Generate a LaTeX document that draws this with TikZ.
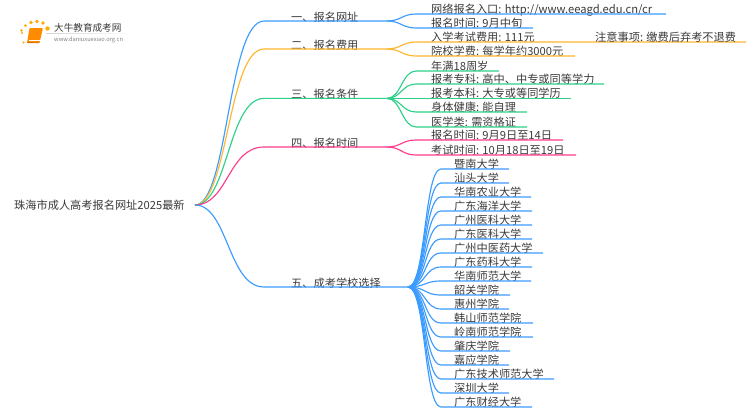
\documentclass[tikz,border=0pt]{standalone}
\usepackage{fontspec}
\setmainfont{Noto Sans CJK SC}
\usepackage{tikz}

\definecolor{linkblue}{HTML}{3C9BFF}
\definecolor{linkorange}{HTML}{FFB52E}
\definecolor{linkgreen}{HTML}{2ED08A}
\definecolor{linkpink}{HTML}{FF3D8B}
\definecolor{textgray}{HTML}{3A3A3A}

\tikzset{
    label/.style={anchor=base west, inner sep=0pt, text=textgray, font=\fontsize{11.2}{13}\selectfont},
    link/.style={line width=1.15pt},
}

\begin{document}
\begin{tikzpicture}[x=1pt, y=-1pt]
    \useasboundingbox (0, 0) rectangle (750, 410);

    % logo
    \foreach \dotx/\doty/\dotr in {22/33/1.2, 21.5/30.5/1.4, 25.5/25.5/1.5, 31/22.5/1.8, 37/21.5/1.9, 43/23/1.9, 47.5/28.5/2.2, 23.5/42.5/1.1}
        \fill[orange!65!yellow] (\dotx, \doty) circle (\dotr);
    \fill[orange!90!yellow, rounded corners=1pt] (29.5, 28) -- (43, 28) -- (39.5, 43) -- (27, 43) -- cycle;
    \draw[white, line width=0.5pt] (29, 40) -- (40, 40);
    \draw[orange!85!black, line width=0.7pt] (27, 42.5) -- (39.5, 42.7);
    \shade[left color=gray!35, right color=white] (46, 33) rectangle (133, 33.6);
    \node[label, font=\fontsize{9.6}{11}\selectfont] (logotitle) at (54, 31) {大牛教育成考网};
    \node[label, font=\fontsize{5.7}{7}\selectfont, text=gray] (logourl) at (54, 41) {www.daniuxuexiao.org.cn};

    % root
    \node[label] (root) at (14, 209.5) {珠海市成人高考报名网址2025最新};
    \coordinate (hub) at (195, 205);

    % five main branches
    \foreach \name/\yy/\endx/\col/\txt in {
        one/21/387/linkblue/一、报名网址,
        two/49/387/linkorange/二、报名费用,
        three/98.4/387/linkgreen/三、报名条件,
        four/147/387/linkpink/四、报名时间,
        five/287/408/linkblue/五、成考学校选择} {
        \coordinate (\name a) at (264, \yy);
        \coordinate (\name) at (\endx, \yy);
        \node[label] (\name t) at (291, \yy) {\txt};
        \draw[link, \col] (hub) .. controls (228, 205) and (228, \yy) .. (\name a) -- (\name);
    }

    % leaves of the first four branches
    \foreach \name/\from/\yy/\endx/\col/\txt in {
        aa/one/14/666/linkblue/{网络报名入口: http://www.eeagd.edu.cn/cr},
        ab/one/28/533/linkblue/报名时间: 9月中旬,
        ba/two/42/746/linkorange/入学考试费用: 111元,
        bb/two/56/575/linkorange/院校学费: 每学年约3000元,
        ca/three/71/499/linkgreen/年满18周岁,
        cb/three/84/604/linkgreen/报考专科: 高中、中专或同等学力,
        cc/three/98.4/571/linkgreen/报考本科: 大专或等同学历,
        cd/three/112/527/linkgreen/身体健康: 能自理,
        ce/three/127/527/linkgreen/医学类: 需资格证,
        da/four/140/563/linkpink/报名时间: 9月9日至14日,
        db/four/155/576/linkpink/考试时间: 10月18日至19日} {
        \coordinate (\name a) at (416, \yy);
        \coordinate (\name) at (\endx, \yy);
        \node[label] (\name t) at (431, \yy-1) {\txt};
        \draw[link, \col] (\from) .. controls +(14,0) and +(-14,0) .. (\name a) -- (\name);
    }
    \node[label] (banote) at (595, 41) {注意事项: 缴费后弃考不退费};

    % universities
    \foreach \yy/\endx/\txt [count=\i] in {
        169/509/暨南大学, 183/509/汕头大学, 197/531/华南农业大学, 211/532/广东海洋大学,
        225/532/广州医科大学, 239/532/广东医科大学, 253/543/广州中医药大学, 267/532/广东药科大学,
        281/531/华南师范大学, 295/510/韶关学院, 309/509/惠州学院, 323/533/韩山师范学院,
        337/533/岭南师范学院, 351/510/肇庆学院, 365/509/嘉应学院, 379/554/广东技术师范大学,
        393/509/深圳大学, 407/532/广东财经大学} {
        \coordinate (ua\i) at (441, \yy);
        \coordinate (u\i) at (\endx, \yy);
        \node[label] (ut\i) at (454, \yy-1) {\txt};
        \draw[link, linkblue] (five) .. controls +(18,0) and +(-17,0) .. (ua\i) -- (u\i);
    }
\end{tikzpicture}
\end{document}
